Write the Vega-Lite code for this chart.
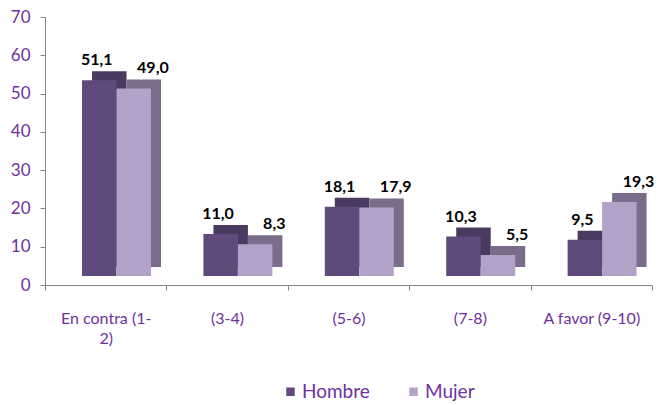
{
  "$schema": "https://vega.github.io/schema/vega-lite/v6.json",
  "width": 607,
  "height": 268,
  "autosize": {"type": "none"},
  "padding": {"left": 45, "top": 17, "right": 5, "bottom": 120},
  "background": "white",
  "config": {
    "view": {"stroke": null},
    "font": "Lato",
    "locale": {"number": {"decimal": ",", "thousands": ".", "grouping": [3], "currency": ["", " €"]}}
  },
  "data": {
    "values": [
      {"cat": "En contra (1-2)", "sexo": "Hombre", "v": 51.1},
      {"cat": "En contra (1-2)", "sexo": "Mujer", "v": 49.0},
      {"cat": "(3-4)", "sexo": "Hombre", "v": 11.0},
      {"cat": "(3-4)", "sexo": "Mujer", "v": 8.3},
      {"cat": "(5-6)", "sexo": "Hombre", "v": 18.1},
      {"cat": "(5-6)", "sexo": "Mujer", "v": 17.9},
      {"cat": "(7-8)", "sexo": "Hombre", "v": 10.3},
      {"cat": "(7-8)", "sexo": "Mujer", "v": 5.5},
      {"cat": "A favor (9-10)", "sexo": "Hombre", "v": 9.5},
      {"cat": "A favor (9-10)", "sexo": "Mujer", "v": 19.3}
    ]
  },
  "resolve": {"scale": {"xOffset": "independent"}},
  "encoding": {
    "x": {
      "field": "cat",
      "type": "nominal",
      "sort": null,
      "scale": {"paddingInner": 0, "paddingOuter": 0},
      "axis": {
        "title": null,
        "labelAngle": 0,
        "tickBand": "extent",
        "tickSize": 5,
        "domainColor": "#868686",
        "tickColor": "#868686",
        "labelColor": "#7030a0",
        "labelFont": "Lato",
        "labelFontSize": 16,
        "labelPadding": 20,
        "labelLineHeight": 20,
        "labelExpr": "datum.label == 'En contra (1-2)' ? ['En contra (1-', '2)'] : datum.label"
      }
    },
    "xOffset": {
      "field": "sexo",
      "type": "nominal",
      "scale": {"domain": ["Hombre", "Mujer"], "paddingInner": 0, "paddingOuter": 0.76, "align": 0.706}
    },
    "y": {
      "field": "v",
      "type": "quantitative",
      "scale": {"domain": [0, 70]},
      "axis": {
        "title": null,
        "grid": false,
        "values": [0, 10, 20, 30, 40, 50, 60, 70],
        "format": "d",
        "tickSize": 5,
        "domainColor": "#868686",
        "tickColor": "#868686",
        "labelColor": "#7030a0",
        "labelFont": "Lato",
        "labelFontSize": 17,
        "labelPadding": 10
      }
    }
  },
  "layer": [
    {
      "mark": {"type": "bar", "yOffset": -18},
      "encoding": {
        "xOffset": {
          "field": "sexo",
          "type": "nominal",
          "scale": {"domain": ["Hombre", "Mujer"], "paddingInner": 0, "paddingOuter": 0.76, "align": 0.897}
        },
        "color": {
          "condition": {"test": "datum.sexo == 'Hombre'", "value": "#4a3a5f"},
          "value": "#7b6c8b"
        }
      }
    },
    {
      "mark": {"type": "bar", "yOffset": -9},
      "encoding": {
        "color": {
          "field": "sexo",
          "type": "nominal",
          "scale": {"domain": ["Hombre", "Mujer"], "range": ["#604a7b", "#b3a2c7"]},
          "legend": {
            "title": null,
            "orient": "none",
            "legendX": 236,
            "legendY": 365,
            "direction": "horizontal",
            "symbolType": "square",
            "symbolSize": 72,
            "symbolStrokeWidth": 0,
            "labelFont": "Lato",
            "labelFontSize": 19,
            "labelColor": "#7030a0",
            "labelOffset": 2,
            "columnPadding": 34
          }
        }
      }
    },
    {
      "transform": [{"filter": "datum.sexo == 'Hombre'"}],
      "mark": {"type": "text", "baseline": "alphabetic", "yOffset": -24, "fontWeight": "bold", "fontSize": 16, "font": "Lato", "color": "black"},
      "encoding": {"text": {"field": "v", "type": "quantitative", "format": ".1f"}}
    },
    {
      "transform": [{"filter": "datum.sexo == 'Mujer'"}],
      "mark": {"type": "text", "baseline": "alphabetic", "yOffset": -24, "dx": 8, "fontWeight": "bold", "fontSize": 16, "font": "Lato", "color": "black"},
      "encoding": {"text": {"field": "v", "type": "quantitative", "format": ".1f"}}
    }
  ]
}
